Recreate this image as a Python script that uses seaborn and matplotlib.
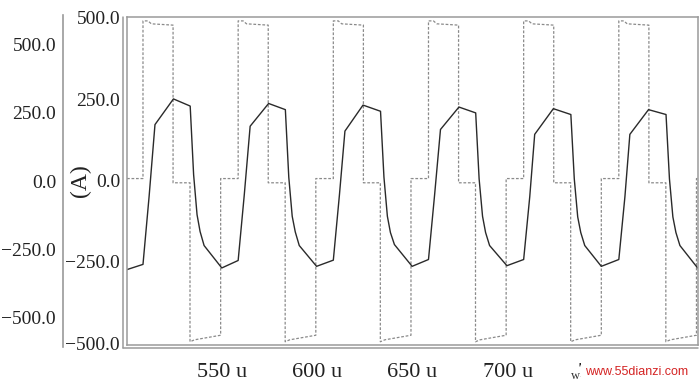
import pandas as pd
import matplotlib
matplotlib.use('Agg')
import matplotlib.pyplot as plt
import seaborn as sns

# time in microseconds (u), values in A
# square-wave trace (dotted), corner points, one row per 50 u period
sq_t = [500.0, 508.4, 508.4, 511.0, 512.8, 524.2, 524.2, 533.1, 533.1, 535.5, 549.2, 549.2,
        558.4, 558.4, 561.0, 562.8, 574.2, 574.2, 583.1, 583.1, 585.5, 599.2, 599.2,
        608.4, 608.4, 611.0, 612.8, 624.2, 624.2, 633.1, 633.1, 635.5, 649.2, 649.2,
        658.4, 658.4, 661.0, 662.8, 674.2, 674.2, 683.1, 683.1, 685.5, 699.2, 699.2,
        708.4, 708.4, 711.0, 712.8, 724.2, 724.2, 733.1, 733.1, 735.5, 749.2, 749.2,
        758.4, 758.4, 761.0, 762.8, 774.2, 774.2, 783.1, 783.1, 785.5, 799.2, 799.2,
        800.0]
sq_v = [6, 6, 491, 491, 482, 478, -7, -7, -496, -490, -476, 6,
        6, 491, 491, 482, 478, -7, -7, -496, -490, -476, 6,
        6, 491, 491, 482, 478, -7, -7, -496, -490, -476, 6,
        6, 491, 491, 482, 478, -7, -7, -496, -490, -476, 6,
        6, 491, 491, 482, 478, -7, -7, -496, -490, -476, 6,
        6, 491, 491, 482, 478, -7, -7, -496, -490, -476, 6,
        6]

# current trace (solid)
cur_t = [500.0, 508.4, 511.6, 514.7, 524.4, 533.2, 535.0, 536.8, 538.4, 540.5, 549.8,
         558.4, 561.6, 564.7, 574.4, 583.2, 585.0, 586.8, 588.4, 590.5, 599.6,
         608.4, 611.6, 614.5, 624.0, 633.2, 635.0, 636.8, 638.4, 640.5, 649.8,
         658.4, 661.6, 664.7, 674.4, 683.2, 685.0, 686.8, 688.4, 690.5, 699.6,
         708.4, 711.6, 714.2, 724.0, 733.2, 735.0, 736.8, 738.4, 740.5, 749.2,
         758.4, 761.6, 764.2, 774.0, 783.2, 785.0, 786.8, 788.4, 790.5, 799.8]
cur_v = [-274, -258, -50, 172, 251, 229, 18, -105, -157, -200, -269,
         -246, -45, 167, 237, 218, 10, -110, -158, -200, -264,
         -245, -45, 152, 232, 213, 10, -110, -160, -197, -264,
         -243, -45, 157, 226, 208, 5, -110, -160, -200, -262,
         -243, -50, 142, 221, 203, 5, -112, -160, -200, -264,
         -243, -50, 142, 218, 203, 5, -112, -160, -200, -269]

x_ticks = [550, 600, 650, 700, 750]
x_labels = ['550 u', '600 u', '650 u', '700 u', '750 u']
y_ticks = [500, 250, 0, -250, -500]
y_labels = ['500.0', '250.0', '0.0', '\u2212250.0', '\u2212500.0']

sns.set_style('white')
plt.rcParams['font.family'] = ['Liberation Serif', 'DejaVu Serif']
plt.rcParams['text.color'] = '#222222'
plt.rcParams['xtick.color'] = '#888888'
plt.rcParams['ytick.color'] = '#888888'
plt.rcParams['xtick.labelcolor'] = '#222222'
plt.rcParams['ytick.labelcolor'] = '#222222'

fig = plt.figure(figsize=(7, 3.84), dpi=100)
W, H = 700, 384
gray = '#9a9a9a'

# main plot box
ax = fig.add_axes([127 / W, (H - 345) / H, (698 - 127) / W, (345 - 17) / H])
sq = pd.DataFrame({'t': sq_t, 'v': sq_v})
cur = pd.DataFrame({'t': cur_t, 'v': cur_v})
sns.lineplot(data=sq, x='t', y='v', estimator=None, sort=False, ax=ax,
             color='#8a8a8a', lw=0.9, linestyle=(0, (2.2, 1.4)))
sns.lineplot(data=cur, x='t', y='v', estimator=None, sort=False, ax=ax,
             color='#2a2a2a', lw=1.0)
ax.set_xlim(500, 800)
ax.set_ylim(-506, 503)
ax.set_xlabel('')
ax.set_ylabel('')
ax.set_xticks(x_ticks)
ax.set_xticklabels(x_labels)
ax.set_yticks(y_ticks)
ax.set_yticklabels(y_labels)
ax.tick_params(axis='x', direction='out', length=9, width=1, pad=4, labelsize=16)
ax.tick_params(axis='y', direction='out', length=4, width=1, pad=1, labelsize=14)
for s in ax.spines.values():
    s.set_color(gray)
    s.set_linewidth(1.1)
    s.set_visible(True)
# second line of the doubled frame edges
ax.plot([-0.007, -0.007], [-0.009, 1.0], transform=ax.transAxes, clip_on=False,
        color=gray, lw=1.1)
ax.plot([-0.007, 1.0], [-0.009, -0.009], transform=ax.transAxes, clip_on=False,
        color=gray, lw=1.1)

# outer (left) amplitude scale
ax2 = fig.add_axes([63 / W, (H - 347) / H, 0.002, (347 - 15) / H])
ax2.set_ylim(-606, 606)
ax2.set_xticks([])
ax2.set_yticks(y_ticks)
ax2.set_yticklabels(y_labels)
ax2.tick_params(axis='y', direction='out', length=4, width=1, pad=1, labelsize=14)
for name, s in ax2.spines.items():
    s.set_visible(name == 'left')
ax2.spines['left'].set_color(gray)
ax2.spines['left'].set_linewidth(1.2)
ax2.patch.set_alpha(0)

fig.text(80 / W, (H - 181) / H, '(A)', rotation=90, ha='center', va='center', fontsize=17)

# site watermark over the last tick label
fig.text(571 / W, (H - 376) / H, 'w', fontsize=9, ha='left', va='center', color='#333333')
fig.text(585 / W, (H - 372) / H, 'www.55dianzi.com', fontsize=9, family='Liberation Sans',
         color='#d42424', ha='left', va='center',
         bbox=dict(facecolor='white', edgecolor='none', pad=3))

fig.savefig('out.png', dpi=100)
